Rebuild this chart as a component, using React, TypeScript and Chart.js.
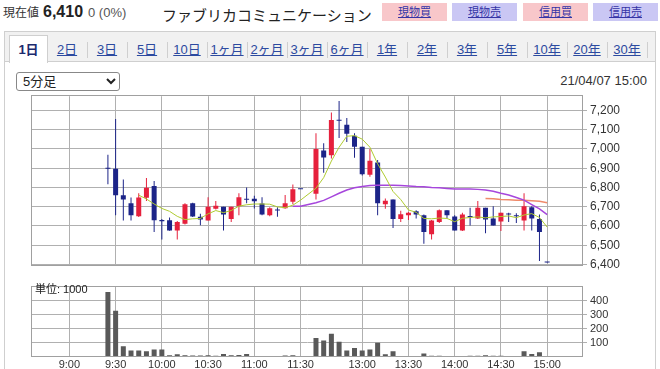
import React, { useEffect, useRef } from 'react';
import { Chart, registerables } from 'chart.js';
Chart.register(...registerables);

// ---- data (5-minute candles, x = slot index, 9:00 = 0) ----
const slots = [5,6,7,8,9,10,11,12,13,14,15,16,17,18,19,20,21,22,23,24,25,26,27,28,29,30,
  32,33,34,35,36,37,38,39,40,41,42,43,44,45,46,47,48,49,50,51,52,53,54,55,56,57,58,59,60,61,62];
const opens = [6900,6897,6760,6718,6651,6746,6807,6631,6630,6577,6611,6718,6648,6628,6689,6700,6636,6702,6741,6741,6716,6656,6682,6692,6726,6790,
  6767,6992,6967,7148,7126,7069,7011,6866,6930,6713,6738,6636,6656,6677,6656,6557,6620,6682,6649,6577,6649,6639,6695,6639,6623,6661,6654,6628,6697,6636,6410];
const highs = [6970,7156,6841,6748,6770,6849,6833,6636,6644,6626,6718,6721,6664,6749,6730,6700,6700,6770,6800,6757,6749,6697,6697,6761,6815,6790,
  7082,7030,7189,7249,7161,7082,7011,7000,6943,6743,6738,6679,6672,6682,6659,6631,6685,6682,6656,6669,6695,6730,6695,6702,6669,6669,6666,6770,6702,6659,6413];
const lows = [6816,6656,6628,6628,6646,6730,6569,6530,6575,6530,6607,6646,6603,6628,6685,6577,6620,6656,6718,6690,6656,6651,6648,6689,6713,6790,
  6738,6877,6951,7057,7036,6954,6862,6856,6656,6689,6590,6620,6631,6639,6508,6530,6615,6639,6577,6574,6602,6636,6562,6602,6574,6620,6615,6577,6577,6418,6410];
const closes = [6897,6759,6738,6656,6748,6798,6630,6625,6577,6620,6713,6649,6634,6700,6705,6659,6700,6749,6736,6728,6659,6692,6680,6718,6790,6790,
  7000,6956,7151,7146,7079,7011,6869,6939,6718,6731,6636,6661,6669,6659,6569,6628,6682,6656,6577,6659,6646,6695,6634,6602,6669,6659,6651,6702,6639,6569,6410];
const volumes = [461,329,77,46,46,40,53,53,13,20,13,11,11,13,9,22,13,15,22,4,4,4,4,11,13,4,
  135,117,166,108,46,64,46,53,102,20,40,4,2,4,24,9,9,4,4,4,9,9,13,9,9,4,4,40,22,33,7];

const ma5Slots = [9,10,11,12,13,14,15,16,17,18,19,20,21,22,23,24,25,26,27,28,29,30,
  32,33,34,35,36,37,38,39,40,41,42,43,44,45,46,47,48,49,50,51,52,53,54,55,56,57,58,59,60,61,62];
const ma5 = [6760,6740,6714,6691,6676,6650,6633,6637,6639,6663,6680,6669,6680,6703,6710,6714,6714,6713,6699,6695,6708,6734,
  6796,6851,6937,7009,7066,7069,7051,7009,6923,6854,6779,6737,6683,6671,6639,6637,6641,6639,6622,6640,6644,6647,6642,6647,6649,6652,6643,6657,6664,6644,6594];
const ma25Slots = [29,30,32,33,34,35,36,37,38,39,40,41,42,43,44,45,46,47,48,49,50,51,52,53,54,55,56,57,58,59,60,61,62];
const ma25 = [6702,6702,6721,6733,6751,6770,6787,6798,6805,6810,6811,6811,6811,6810,6808,6805,6803,6800,6798,6795,6792,6792,6792,6790,6787,6780,6770,6761,6748,6734,6711,6689,6659];
const ma50Slots = [54,55,56,57,58,59,60,61,62];
const ma50 = [6743,6741,6738,6736,6734,6733,6731,6728,6721];

const timeTickSlots = [0,6,12,18,24,30,38,44,50,56,62];
const timeTickLabels = ['9:00','9:30','10:00','10:30','11:00','11:30','13:00','13:30','14:00','14:30','15:00'];
const priceTicks = [6400,6500,6600,6700,6800,6900,7000,7100,7200];
const volumeTicks = [100,200,300,400];

const tabs = ['2日','3日','5日','10日','1ヶ月','2ヶ月','3ヶ月','6ヶ月','1年','2年','3年','5年','10年','20年','30年'];
const buttons = [
  { label: '現物買', bg: '#f8c7ca' },
  { label: '現物売', bg: '#cac7f4' },
  { label: '信用買', bg: '#f8c7ca' },
  { label: '信用売', bg: '#cac7f4' },
];

const UP = '#e6203c';
const DOWN = '#1c2488';
const GRID = '#b0b0b0';
const TICK_FONT = "'Liberation Sans', Arial, sans-serif";
const PAGE_FONT = "'Liberation Sans', Arial, 'Noto Sans CJK JP', sans-serif";

const X_MIN = -4.85;
const X_MAX = 66.65;

const framePlugin = {
  id: 'frame',
  afterDatasetsDraw(chart: any) {
    const { ctx, chartArea: a } = chart;
    ctx.save();
    ctx.strokeStyle = '#a0a0a0';
    ctx.lineWidth = 1;
    const l = Math.round(a.left) - 0.5;
    const t = Math.round(a.top) - 0.5;
    const r = Math.round(a.right) - 0.5;
    const b = Math.round(a.bottom) - 0.5;
    ctx.strokeRect(l, t, r - l, b - t);
    ctx.restore();
  },
};

function PriceChart() {
  const ref = useRef<HTMLCanvasElement>(null);
  useEffect(() => {
    const colors = slots.map((_, i) => (closes[i] > opens[i] ? UP : DOWN));
    const chart = new Chart(ref.current as HTMLCanvasElement, {
      type: 'bar',
      data: {
        datasets: [
          { type: 'line', data: ma5Slots.map((s, i) => ({ x: s, y: ma5[i] })), borderColor: '#afcb30', borderWidth: 1, pointRadius: 0, order: 0 } as any,
          { type: 'line', data: ma25Slots.map((s, i) => ({ x: s, y: ma25[i] })), borderColor: '#a646dc', borderWidth: 1.5, pointRadius: 0, order: 0 } as any,
          { type: 'line', data: ma50Slots.map((s, i) => ({ x: s, y: ma50[i] })), borderColor: '#ef8a6a', borderWidth: 1.5, pointRadius: 0, order: 0 } as any,
          { type: 'bar', data: slots.map((s, i) => ({ x: s, y: [opens[i], closes[i]] })), backgroundColor: colors, barThickness: 5, grouped: false, minBarLength: 1, inflateAmount: 0, order: 1 } as any,
          { type: 'bar', data: slots.map((s, i) => ({ x: s, y: [lows[i], highs[i]] })), backgroundColor: colors, barThickness: 1, grouped: false, inflateAmount: 0, order: 2 } as any,
        ],
      },
      options: {
        animation: false,
        responsive: false,
        maintainAspectRatio: false,
        layout: { padding: { left: 32, top: 5, right: 0, bottom: 0 } },
        plugins: { legend: { display: false }, tooltip: { enabled: false } },
        scales: {
          x: {
            type: 'linear', min: X_MIN, max: X_MAX, offset: false, bounds: 'data',
            grid: { color: GRID, drawTicks: false, offset: false },
            border: { display: false },
            ticks: { display: false },
            afterBuildTicks: (s: any) => { s.ticks = timeTickSlots.map((v) => ({ value: v })); },
            afterFit: (s: any) => { s.height = 6; },
          },
          y: {
            position: 'right', min: 6393, max: 7274, bounds: 'data',
            grid: { color: GRID, tickLength: 4 },
            border: { display: false },
            ticks: { padding: 3, color: '#333', font: { family: TICK_FONT, size: 12 }, callback: (v: any) => Number(v).toLocaleString('en-US') },
            afterBuildTicks: (s: any) => { s.ticks = priceTicks.map((v) => ({ value: v })); },
            afterFit: (s: any) => { s.width = 77; },
          },
        },
      } as any,
      plugins: [framePlugin],
    });
    return () => chart.destroy();
  }, []);
  return <canvas ref={ref} width={660} height={190} style={{ position: 'absolute', left: 0, top: 86, width: 660, height: 190 }} />;
}

function VolumeChart() {
  const ref = useRef<HTMLCanvasElement>(null);
  useEffect(() => {
    const chart = new Chart(ref.current as HTMLCanvasElement, {
      type: 'bar',
      data: {
        datasets: [
          { type: 'bar', data: slots.map((s, i) => ({ x: s, y: volumes[i] })), backgroundColor: '#595959', barThickness: 5, grouped: false, inflateAmount: 0 } as any,
        ],
      },
      options: {
        animation: false,
        responsive: false,
        maintainAspectRatio: false,
        layout: { padding: { left: 32, top: 5, right: 0, bottom: 0 } },
        plugins: { legend: { display: false }, tooltip: { enabled: false } },
        scales: {
          x: {
            type: 'linear', min: X_MIN, max: X_MAX, offset: false, bounds: 'data',
            grid: { color: GRID, drawTicks: false, offset: false },
            border: { display: false },
            ticks: {
              padding: 1, autoSkip: false, maxRotation: 0, color: '#333', font: { family: TICK_FONT, size: 11 },
              callback: (v: any) => { const k = timeTickSlots.indexOf(Number(v)); return k >= 0 ? timeTickLabels[k] : ''; },
            },
            afterBuildTicks: (s: any) => { s.ticks = timeTickSlots.map((v) => ({ value: v })); },
            afterFit: (s: any) => { s.height = 12; },
          },
          y: {
            position: 'right', min: 0, max: 500, bounds: 'data',
            grid: { color: GRID, tickLength: 4 },
            border: { display: false },
            ticks: { padding: 3, color: '#333', font: { family: TICK_FONT, size: 11 } },
            afterBuildTicks: (s: any) => { s.ticks = volumeTicks.map((v) => ({ value: v })); },
            afterFit: (s: any) => { s.width = 77; },
          },
        },
      } as any,
      plugins: [framePlugin],
    });
    return () => chart.destroy();
  }, []);
  return <canvas ref={ref} width={660} height={92} style={{ position: 'absolute', left: 0, top: 277, width: 660, height: 92 }} />;
}

function T(props: { x: number; y: number; size: number; children: any; style?: any }) {
  const lh = Math.round(props.size * 1.4);
  return (
    <div style={{ position: 'absolute', left: props.x, top: props.y - lh / 2, fontSize: props.size, lineHeight: lh + 'px', whiteSpace: 'nowrap', ...props.style }}>
      {props.children}
    </div>
  );
}

export default function App() {
  return (
    <div style={{ position: 'absolute', left: 0, top: 0, width: 660, height: 369, overflow: 'hidden', background: '#fff', fontFamily: PAGE_FONT, color: '#222' }}>
      {/* header */}
      <T x={3} y={13} size={12} style={{ color: '#333' }}>現在値</T>
      <T x={43} y={12} size={16} style={{ fontWeight: 'bold', color: '#222' }}>6,410</T>
      <T x={88} y={13} size={13} style={{ color: '#555' }}>0 (0%)</T>
      <T x={162} y={15} size={15} style={{ color: '#222' }}>ファブリカコミュニケーション</T>
      {buttons.map((b, i) => (
        <div key={i} style={{ position: 'absolute', left: [382, 452, 523, 593][i], top: 3, width: 65, height: 18, background: b.bg, fontSize: 11, lineHeight: '18px', textAlign: 'center', color: '#3434a6', textDecoration: 'underline' }}>{b.label}</div>
      ))}

      {/* panel */}
      <div style={{ position: 'absolute', left: 4, top: 31, width: 650, height: 345, borderLeft: '1px solid #cfcfcf', borderRight: '1px solid #cfcfcf', borderTop: '1px solid #cfcfcf' }} />
      <div style={{ position: 'absolute', left: 5, top: 32, width: 650, height: 29, background: '#f1f1f1', borderBottom: '1px solid #cfcfcf' }} />
      <div style={{ position: 'absolute', left: 9, top: 35, width: 37, height: 27, background: '#fff', borderLeft: '1px solid #cfcfcf', borderRight: '1px solid #cfcfcf', borderTop: '1px solid #cfcfcf' }} />
      <T x={9} y={50} size={13} style={{ width: 39, textAlign: 'center', fontWeight: 'bold', color: '#1b2a6e' }}>1日</T>
      {tabs.map((t, i) => (
        <React.Fragment key={t}>
          <T x={47 + i * 40} y={50} size={13} style={{ width: 40, textAlign: 'center', color: '#2c4aa0', textDecoration: 'underline' }}>{t}</T>
          <div style={{ position: 'absolute', left: 87 + i * 40, top: 42, width: 1, height: 16, background: '#cfcfcf' }} />
        </React.Fragment>
      ))}

      {/* controls */}
      <select defaultValue="5" style={{ position: 'absolute', left: 16, top: 72, width: 104, height: 19, fontSize: 13, fontFamily: PAGE_FONT, padding: '0 2px', borderRadius: 3, border: '1px solid #888', background: '#fff', color: '#222' }}>
        <option value="5">5分足</option>
      </select>
      <div style={{ position: 'absolute', right: 13, top: 73, fontSize: 13, lineHeight: '16px', color: '#333' }}>21/04/07 15:00</div>

      <PriceChart />
      <VolumeChart />
      <T x={35} y={289} size={11} style={{ color: '#222' }}>単位: 1000</T>
    </div>
  );
}
